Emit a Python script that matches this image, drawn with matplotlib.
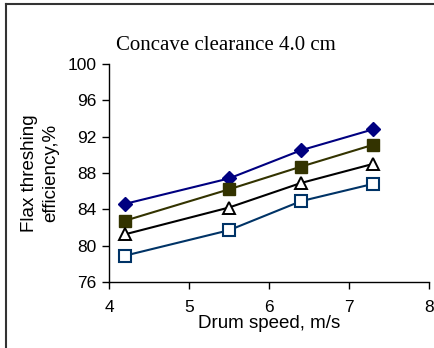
import matplotlib
matplotlib.use("Agg")
import matplotlib.pyplot as plt
from matplotlib.lines import Line2D

# data
speed = [4.2, 5.5, 6.4, 7.3]
eff_diamond = [84.6, 87.4, 90.5, 92.8]
eff_square = [82.75, 86.2, 88.7, 91.1]
eff_triangle = [81.25, 84.2, 86.9, 89.0]
eff_open_sq = [78.9, 81.7, 84.9, 86.8]

plt.rcParams['font.family'] = ['Liberation Sans', 'DejaVu Sans']

fig = plt.figure(figsize=(4.34, 3.48), dpi=100)
W, H = 434, 348
ax = fig.add_axes([109 / W, 1 - 282 / H, (429 - 109) / W, (282 - 64) / H])

ax.plot(speed, eff_diamond, color='#000080', lw=1.5, marker='D', ms=7,
        mfc='#000080', mec='#000080')
ax.plot(speed, eff_square, color='#333300', lw=1.5, marker='s', ms=8.5,
        mfc='#333300', mec='#333300')
ax.plot(speed, eff_triangle, color='black', lw=1.5, marker='^', ms=8.5,
        mfc='white', mec='black', mew=1.4)
ax.plot(speed, eff_open_sq, color='#003366', lw=1.5, marker='s', ms=8.5,
        mfc='white', mec='#003366', mew=1.5)

ax.set_xlim(4, 8)
ax.set_ylim(76, 100)
ax.set_xticks([4, 5, 6, 7, 8])
ax.set_yticks(range(76, 101, 4))
ax.spines['top'].set_visible(False)
ax.spines['right'].set_visible(False)
ax.tick_params(direction='out', length=5, width=1, labelsize=12.5)
ax.tick_params(axis='x', pad=8)
ax.tick_params(axis='y', pad=4)
for s in ['left', 'bottom']:
    ax.spines[s].set_linewidth(1)

ax.set_xlabel('Drum speed, m/s', fontsize=13.5, labelpad=0)
ax.set_ylabel('Flax threshing\nefficiency,%', fontsize=13.5, labelpad=6,
              linespacing=1.35)
fig.text(226 / W, 1 - 45 / H, 'Concave clearance 4.0 cm',
         family='Liberation Serif', fontsize=15, ha='center', va='center')

# frame around the picture (top and left edges visible)
fig.add_artist(Line2D([6 / W, 1], [1 - 4 / H, 1 - 4 / H], color='#333333', lw=1.5))
fig.add_artist(Line2D([6 / W, 6 / W], [0, 1 - 4 / H], color='#333333', lw=1.5))

fig.savefig('out.png', dpi=100)
